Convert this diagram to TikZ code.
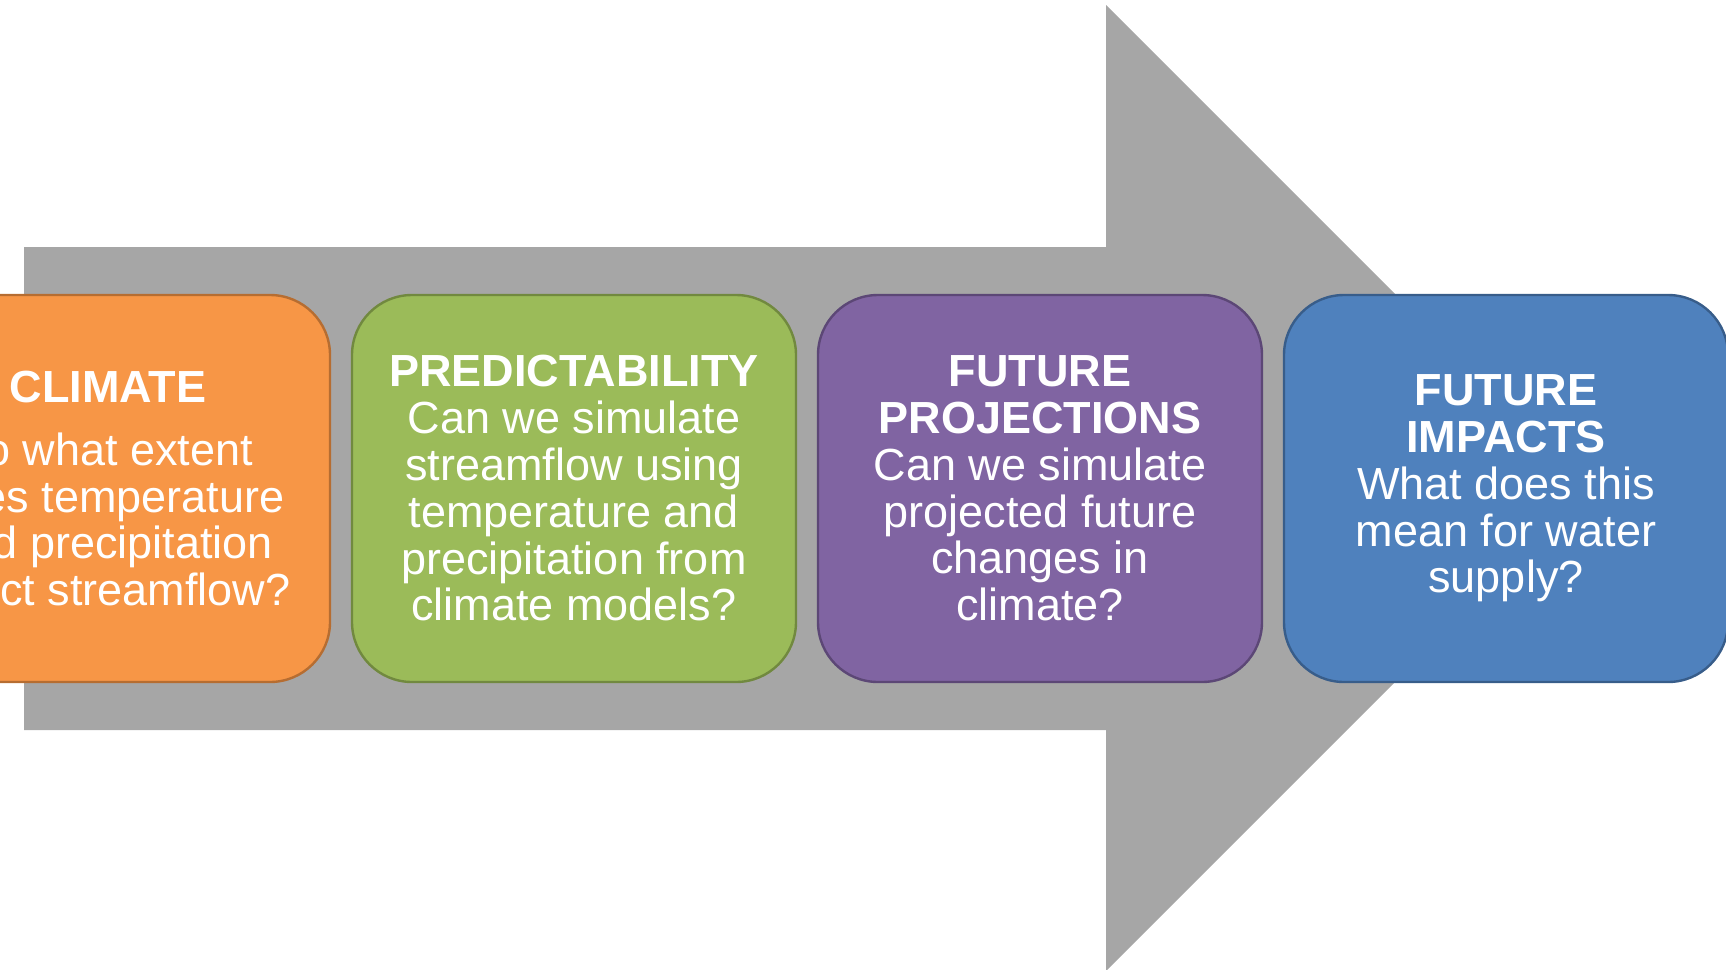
\documentclass[tikz,border=0pt]{standalone}
\usepackage{fontspec}
\setmainfont{Liberation Sans}
\usetikzlibrary{positioning}

\definecolor{arrowgray}{HTML}{A6A6A6}
\definecolor{climatefill}{HTML}{F79646}
\definecolor{climateline}{HTML}{B66D31}
\definecolor{predictfill}{HTML}{9BBB59}
\definecolor{predictline}{HTML}{71893F}
\definecolor{projfill}{HTML}{8064A2}
\definecolor{projline}{HTML}{5C4776}
\definecolor{impactfill}{HTML}{4F81BD}
\definecolor{impactline}{HTML}{385D8A}

\begin{document}
\begin{tikzpicture}[x=0.5pt,y=-0.5pt,
    stage/.style={draw,line width=1.2pt,rounded corners=30pt,
      minimum width=222pt,minimum height=193.5pt,inner sep=0pt,outer sep=0pt,
      text=white,align=center,font=\fontsize{22.5}{23.4}\selectfont}]
      \useasboundingbox (0,0) rectangle (1726,970);
      \clip (0,0) rectangle (1726,970);
      % big arrow behind the stages
      \fill [arrowgray] (24,247) -- (1106,247) -- (1106,5) -- (1589,488)
            -- (1106,971) -- (1106,730) -- (24,730) -- cycle;
      \node [stage,fill=climatefill,draw=climateline] (climate) at (108,488.5)
            {\textbf{CLIMATE}\\[8pt]To what extent\\does temperature\\
             and precipitation\\affect streamflow?};
      \node [stage,fill=predictfill,draw=predictline,right=11pt of climate]
            (predict) {\textbf{PREDICTABILITY}\\Can we simulate\\
             streamflow using\\temperature and\\precipitation from\\
             climate models?};
      \node [stage,fill=projfill,draw=projline,right=11pt of predict] (proj)
            {\textbf{FUTURE}\\\textbf{PROJECTIONS}\\Can we simulate\\
             projected future\\changes in\\climate?};
      \node [stage,fill=impactfill,draw=impactline,right=11pt of proj]
            (impact) {\textbf{FUTURE}\\\textbf{IMPACTS}\\What does this\\
             mean for water\\supply?};
    \end{tikzpicture}
\end{document}
